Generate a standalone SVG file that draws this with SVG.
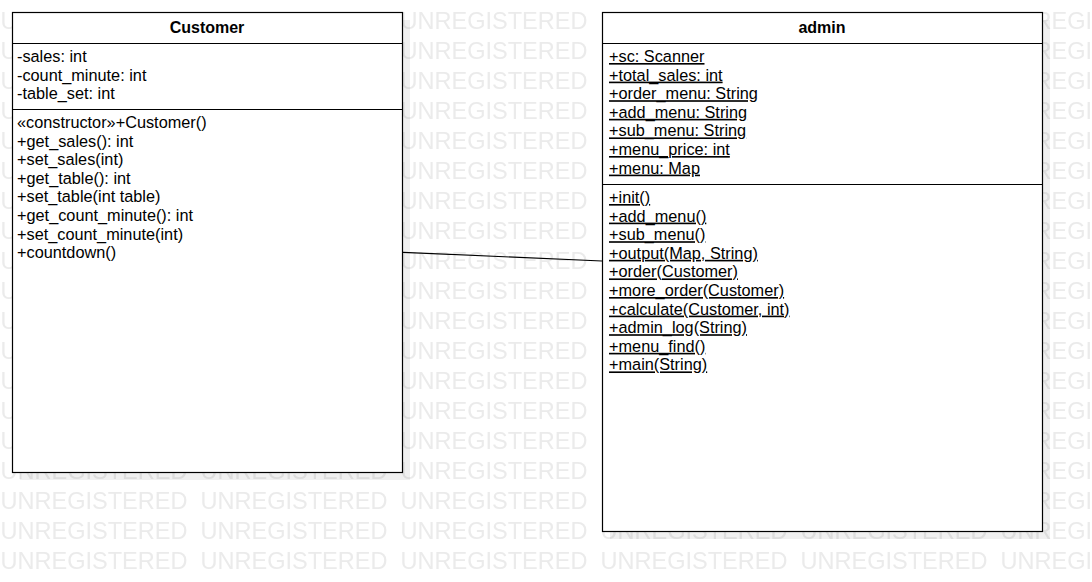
<svg xmlns="http://www.w3.org/2000/svg" width="1092" height="582" viewBox="0 0 1092 582">
<style>
  .box{fill:#ffffff;stroke:#000000;stroke-width:1.2}
  .sep{stroke:#000000;stroke-width:1.2;fill:none}
  .shadow{fill:#000000;fill-opacity:0.06}
  .title{font-family:"Liberation Sans",Arial,sans-serif;font-size:16px;font-weight:bold;fill:#000;text-anchor:middle}
  .item{font-family:"Liberation Sans",Arial,sans-serif;font-size:16.3px;fill:#000}
  .st{text-decoration:underline}
  .wm{font-family:"Liberation Sans",Arial,sans-serif;font-size:23.4px;fill:#ebebeb}
  .edge{stroke:#000;stroke-width:1.2;fill:none}
</style>
<defs>
  <pattern id="wmp" patternUnits="userSpaceOnUse" x="0" y="0" width="200" height="30">
    <text class="wm" x="0.5" y="29" textLength="187" lengthAdjust="spacingAndGlyphs">UNREGISTERED</text>
  </pattern>
</defs>
<rect x="0" y="0" width="1092" height="582" fill="#ffffff"/>
<rect id="watermark" x="0" y="0" width="1092" height="582" fill="url(#wmp)"/>

<g id="connectors">
  <line class="edge" x1="403" y1="252.3" x2="602" y2="261"/>
</g>

<g id="customer">
  <rect class="shadow" x="20" y="20" width="390" height="460"/>
  <rect class="box" x="12.5" y="12.5" width="390" height="460"/>
  <line class="sep" x1="12.5" y1="43.5" x2="402.5" y2="43.5"/>
  <line class="sep" x1="12.5" y1="109.5" x2="402.5" y2="109.5"/>
  <text class="title" x="207" y="33">Customer</text>
  <text class="item" x="17" y="62">-sales: int</text>
  <text class="item" x="17" y="80.6">-count_minute: int</text>
  <text class="item" x="17" y="99.2">-table_set: int</text>
  <text class="item" x="17" y="128">«constructor»+Customer()</text>
  <text class="item" x="17" y="146.6">+get_sales(): int</text>
  <text class="item" x="17" y="165.2">+set_sales(int)</text>
  <text class="item" x="17" y="183.8">+get_table(): int</text>
  <text class="item" x="17" y="202.4">+set_table(int table)</text>
  <text class="item" x="17" y="221">+get_count_minute(): int</text>
  <text class="item" x="17" y="239.6">+set_count_minute(int)</text>
  <text class="item" x="17" y="258.2">+countdown()</text>
</g>

<g id="admin">
  <rect class="shadow" x="610" y="20" width="440" height="519"/>
  <rect class="box" x="602.5" y="12.5" width="440" height="519"/>
  <line class="sep" x1="602.5" y1="43.5" x2="1042.5" y2="43.5"/>
  <line class="sep" x1="602.5" y1="184.5" x2="1042.5" y2="184.5"/>
  <text class="title" x="822" y="33">admin</text>
  <text class="item st" x="609" y="62">+sc: Scanner</text>
  <text class="item st" x="609" y="80.6">+total_sales: int</text>
  <text class="item st" x="609" y="99.2">+order_menu: String</text>
  <text class="item st" x="609" y="117.8">+add_menu: String</text>
  <text class="item st" x="609" y="136.4">+sub_menu: String</text>
  <text class="item st" x="609" y="155">+menu_price: int</text>
  <text class="item st" x="609" y="173.6">+menu: Map</text>
  <text class="item st" x="609" y="203">+init()</text>
  <text class="item st" x="609" y="221.6">+add_menu()</text>
  <text class="item st" x="609" y="240.2">+sub_menu()</text>
  <text class="item st" x="609" y="258.8">+output(Map, String)</text>
  <text class="item st" x="609" y="277.4">+order(Customer)</text>
  <text class="item st" x="609" y="296">+more_order(Customer)</text>
  <text class="item st" x="609" y="314.6">+calculate(Customer, int)</text>
  <text class="item st" x="609" y="333.2">+admin_log(String)</text>
  <text class="item st" x="609" y="351.8">+menu_find()</text>
  <text class="item st" x="609" y="370.4">+main(String)</text>
</g>
</svg>
